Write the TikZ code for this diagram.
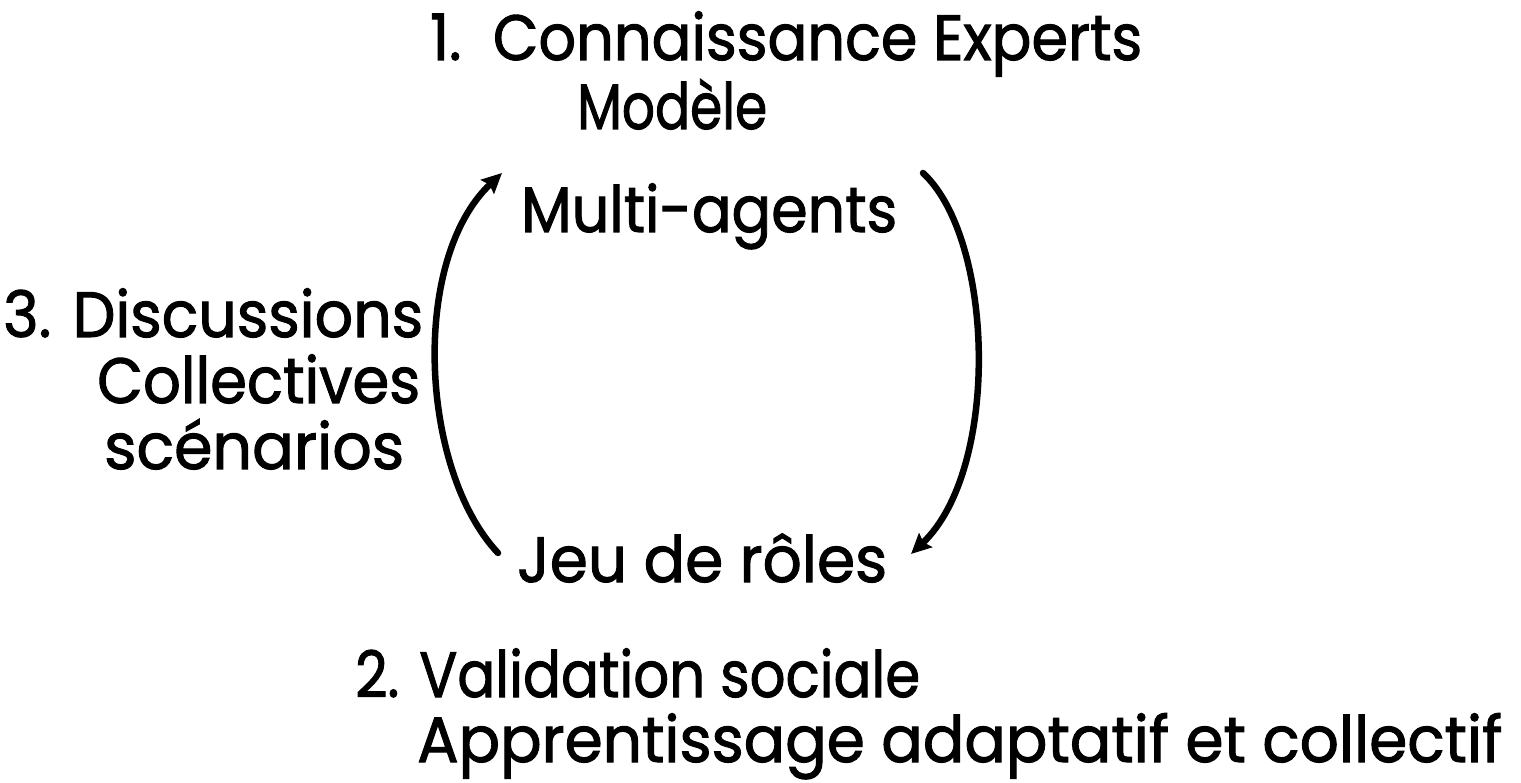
\documentclass[tikz,border=0pt]{standalone}
\usepackage{fontspec}
\usepackage{graphicx}
\setmainfont{Poppins}[FakeBold=1.6]
\usetikzlibrary{arrows.meta}
\newcommand\fitw[2]{\resizebox{#1pt}{\height}{#2}}
\begin{document}
\begin{tikzpicture}[x=1pt,y=-1pt,
  lbl/.style={inner sep=0pt,anchor=base west,font=\fontsize{64}{70}\selectfont},
  arc/.style={line width=6.5pt,line cap=round,-{Stealth[length=20pt,width=19pt,inset=3pt]}}]
\useasboundingbox (0,0) rectangle (1521,783);
\node[lbl] (t1) at (430,60) {\fitw{712}{1.\ \ Connaissance Experts}};
\node[lbl] (mod) at (577,129) {\fitw{190}{Modèle}};
\node[lbl] (multi) at (521,232) {\fitw{376}{Multi-agents}};
\node[lbl] (d3) at (3,337) {\fitw{420}{3. Discussions}};
\node[lbl] (coll) at (97,403) {\fitw{323}{Collectives}};
\node[lbl] (scen) at (104,469) {\fitw{300}{scénarios}};
\node[lbl] (jeu) at (517,582) {\fitw{370}{Jeu de rôles}};
\node[lbl] (v2) at (355,697) {\fitw{565}{2. Validation sociale}};
\node[lbl] (app) at (417,762) {\fitw{1085}{Apprentissage adaptatif et collectif}};
\coordinate (la) at (498,553);
\coordinate (lb) at (502,173);
\coordinate (ra) at (923,173);
\coordinate (rb) at (911,554);
\draw[arc] (la) .. controls (420,470) and (410,260) .. (lb);
\draw[arc] (ra) .. controls (995,240) and (1000,470) .. (rb);
\end{tikzpicture}
\end{document}
